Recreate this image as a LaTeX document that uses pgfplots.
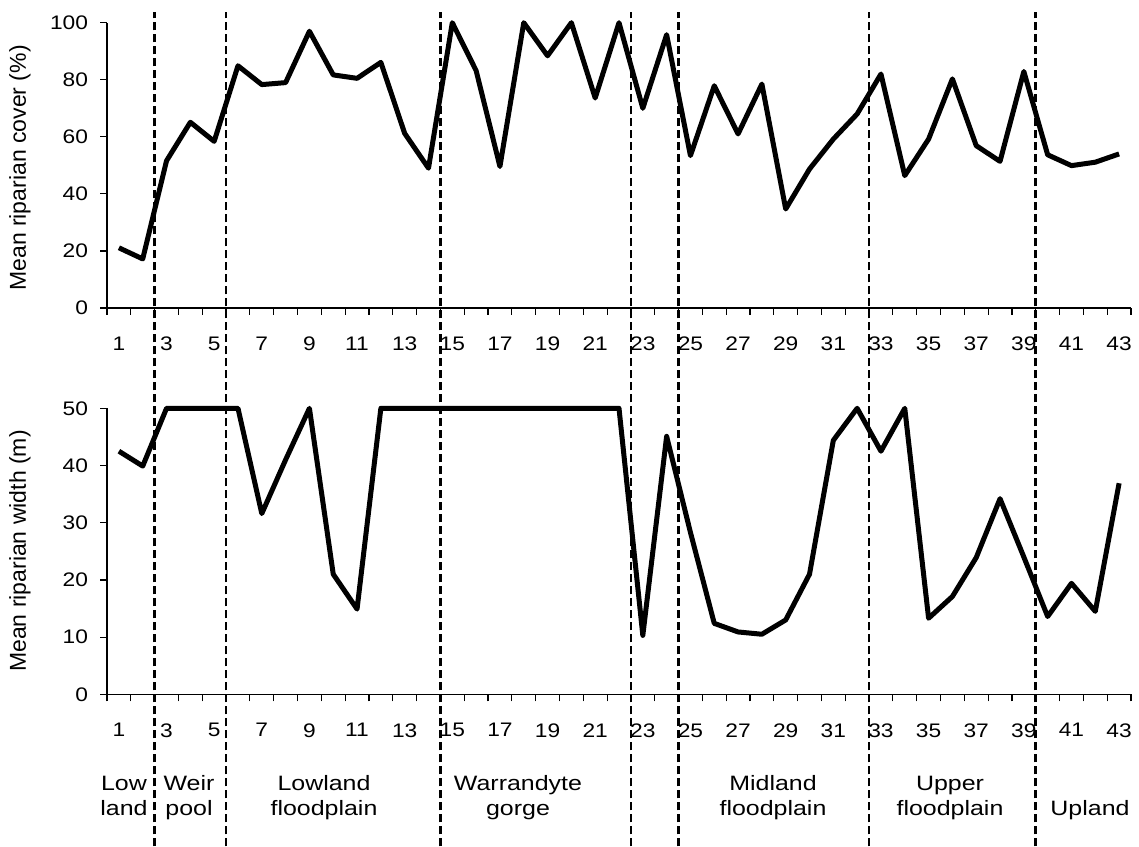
\documentclass[border=0pt]{standalone}
\usepackage{fontspec}
\setmainfont{Liberation Sans}
\newfontfamily\widesans[FakeStretch=1.16]{Liberation Sans}
\newfontfamily\labelsans[FakeStretch=1.2]{Liberation Sans}
\usepackage{pgfplots}
\usepackage{pgfplotstable}
\pgfplotsset{compat=1.18}

% Mean riparian cover (%) and mean riparian width (m) for sites 1-43
\pgfplotstableread{
site cover width
1  21.1 42.5
2  17.2 39.9
3  51.6 50
4  65.1 50
5  58.4 50
6  84.9 50
7  78.3 31.6
8  79.0 41.0
9  97.0 50
10 81.7 21.0
11 80.5 14.9
12 86.1 50
13 61.2 50
14 49.0 50
15 100  50
16 83.2 50
17 49.6 50
18 100  50
19 88.4 50
20 100  50
21 73.6 50
22 100  50
23 70.0 10.3
24 95.8 45.1
25 53.4 28.3
26 77.9 12.4
27 61.0 10.9
28 78.5 10.5
29 34.7 13.0
30 48.7 21.0
31 59.2 44.4
32 68.0 50
33 82.0 42.5
34 46.4 50
35 59.2 13.3
36 80.3 17.1
37 56.9 23.9
38 51.4 34.2
39 82.9 24.0
40 53.7 13.6
41 49.9 19.4
42 51.1 14.5
43 54.0 36.9
}\riparian

\pgfplotsset{
  reach/.style={
    scale only axis,
    width=512pt,
    xmin=0.5, xmax=43.5,
    axis x line*=bottom,
    axis y line*=left,
    xtick={1,3,...,43},
    minor xtick={0.5,1.5,...,43.5},
    major x tick style={draw=none},
    tick align=outside,
    major tick length=3.5pt,
    minor tick length=3.5pt,
    tick style={line width=0.6pt, black},
    axis line style={line width=0.6pt, black},
    ticklabel style={font=\widesans\fontsize{9.8}{11}\selectfont},
    /pgf/number format/assume math mode=true,
    xticklabel style={yshift=-7.5pt},
    yticklabel style={xshift=-2.5pt},
    clip=false,
  },
  site line/.style={black, line width=2.5pt, line join=round},
}

\begin{document}
\begin{tikzpicture}[x=1pt, y=1pt]
\path[use as bounding box] (0,0) rectangle (569.5,423);

% riparian cover
\begin{axis}[reach, at={(53.5pt,269pt)}, anchor=south west,
    height=142.65pt, ymin=0, ymax=100, ytick={0,20,...,100}]
  \addplot[site line] table[x=site, y=cover] {\riparian};
\end{axis}

% riparian width, with the reach boundaries running through both panels
\begin{axis}[reach, at={(53.5pt,75.85pt)}, anchor=south west,
    height=143pt, ymin=0, ymax=50, ytick={0,10,...,50}]
  \addplot[site line] table[x=site, y=width] {\riparian};
  \pgfplotsinvokeforeach{2.5,5.5,14.5,22.5,24.5,32.5,39.5}{
    \draw[black, line width=1.4pt, dash pattern=on 4pt off 2pt]
      (axis cs:#1,-26.6) -- (axis cs:#1,119.2);
  }
\end{axis}

% axis titles
\begin{scope}[font=\fontsize{11.5}{13}\selectfont]
\node[rotate=90, anchor=center] at (10,339) {Mean riparian cover (\%)};
\node[rotate=90, anchor=center] at (10,147.5) {Mean riparian width (m)};
\end{scope}

% reach names
\begin{scope}[font=\labelsans\fontsize{10.4}{12}\selectfont, every node/.style={anchor=base}]
\node at (62,28) {Low};         \node at (62,15.5) {land};
\node at (94.5,28) {Weir};      \node at (94.5,15.5) {pool};
\node at (162,28) {Lowland};    \node at (162,15.5) {floodplain};
\node at (259,28) {Warrandyte}; \node at (259,15.5) {gorge};
\node at (386.5,28) {Midland};  \node at (386.5,15.5) {floodplain};
\node at (475,28) {Upper};      \node at (475,15.5) {floodplain};
\node at (545,15.5) {Upland};
\end{scope}
\end{tikzpicture}
\end{document}
